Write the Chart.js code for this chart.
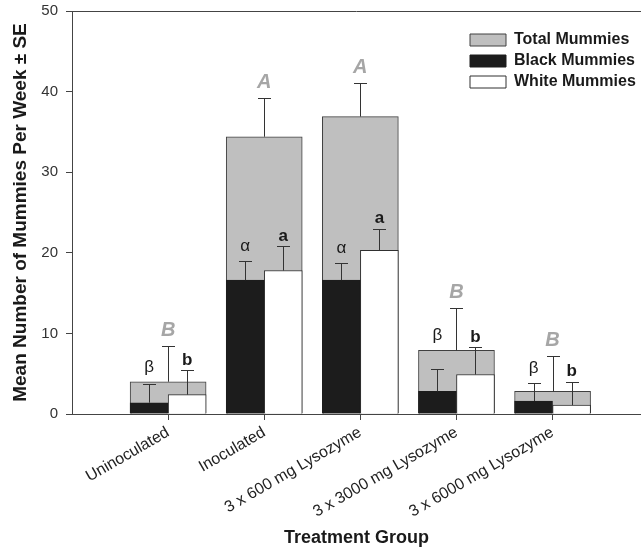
<!DOCTYPE html>
<html><head><meta charset="utf-8">
<script src="https://cdn.jsdelivr.net/npm/chart.js@4.4.1/dist/chart.umd.min.js"></script>
<style>html,body{margin:0;padding:0;background:#fff;}#wrap{width:641px;height:551px;}</style>
</head><body><div id="wrap"><canvas id="c" width="641" height="551"></canvas></div>
<script>
// ---- data ----
const categories = ['Uninoculated', 'Inoculated', '3 x 600 mg Lysozyme', '3 x 3000 mg Lysozyme', '3 x 6000 mg Lysozyme'];
const totalMean = [4.0, 34.4, 36.9, 7.9, 2.8];
const totalSE   = [4.4, 4.8, 4.2, 5.2, 4.4];
const blackMean = [1.4, 16.6, 16.6, 2.8, 1.6];
const blackSE   = [2.3, 2.4, 2.1, 2.8, 2.25];
const whiteMean = [2.4, 17.8, 20.3, 4.9, 1.1];
const whiteSE   = [3.05, 3.0, 2.7, 3.4, 2.9];
const totalLetters = ['B', 'A', 'A', 'B', 'B'];
const blackLetters = ['\u03B2', '\u03B1', '\u03B1', '\u03B2', '\u03B2'];
const whiteLetters = ['b', 'a', 'a', 'b', 'b'];
const yTicks = [0, 10, 20, 30, 40, 50];

const FONT = "'Liberation Sans', Arial, Helvetica, sans-serif";
const AXIS = '#444';
const X_MAX = 5.92;          // axis extends past the last group (clipped at the right edge)
const GROUP_W = 76;          // px width of the total bar; black/white are half of it
const HALF_SHIFT = 0.198;    // quarter of group width, in category units
const pts = (arr, shift) => arr.map((v, i) => ({ x: i + 1 + shift, y: v }));

const topBorder = {
  id: 'topBorder',
  afterDraw(chart) {
    const { ctx, chartArea: a } = chart;
    ctx.save(); ctx.strokeStyle = AXIS; ctx.lineWidth = 1;
    ctx.beginPath(); ctx.moveTo(a.left, Math.round(a.top) + 0.5); ctx.lineTo(chart.width, Math.round(a.top) + 0.5); ctx.stroke();
    ctx.restore();
  }
};

const legendPlace = {
  id: 'legendPlace',
  afterLayout(chart) {
    const lg = chart.legend;
    if (lg) { lg.left = 465; lg.top = 27; }
  }
};

const errAndLetters = {
  id: 'errAndLetters',
  afterDatasetsDraw(chart) {
    const ctx = chart.ctx, ys = chart.scales.y;
    const sets = [
      { di: 0, m: totalMean, se: totalSE },
      { di: 1, m: blackMean, se: blackSE },
      { di: 2, m: whiteMean, se: whiteSE }
    ];
    ctx.save();
    ctx.strokeStyle = '#333'; ctx.lineWidth = 1;
    sets.forEach(s => {
      chart.getDatasetMeta(s.di).data.forEach((bar, j) => {
        const x = Math.round(bar.x) + 0.5;
        const y0 = ys.getPixelForValue(s.m[j]);
        const y1 = Math.round(ys.getPixelForValue(s.m[j] + s.se[j])) + 0.5;
        ctx.beginPath();
        ctx.moveTo(x, y0); ctx.lineTo(x, y1);
        ctx.moveTo(x - 6.5, y1); ctx.lineTo(x + 6.5, y1);
        ctx.stroke();
      });
    });
    ctx.textAlign = 'center'; ctx.textBaseline = 'alphabetic';
    ctx.fillStyle = '#a6a6a6';
    ctx.font = 'italic bold 20px ' + FONT;
    chart.getDatasetMeta(0).data.forEach((bar, j) => {
      const y = ys.getPixelForValue(totalMean[j] + totalSE[j]) - 10;
      ctx.fillText(totalLetters[j], bar.x, y);
    });
    ctx.fillStyle = '#1a1a1a';
    ctx.font = '17px ' + FONT;
    chart.getDatasetMeta(1).data.forEach((bar, j) => {
      let top = blackMean[j] + blackSE[j];
      if (totalMean[j] > top && totalMean[j] - top < 3) top = totalMean[j];
      const y = ys.getPixelForValue(top) - 10;
      ctx.fillText(blackLetters[j], bar.x, y);
    });
    ctx.font = 'bold 17px ' + FONT;
    chart.getDatasetMeta(2).data.forEach((bar, j) => {
      const y = ys.getPixelForValue(whiteMean[j] + whiteSE[j]) - 5.5;
      ctx.fillText(whiteLetters[j], bar.x, y);
    });
    ctx.restore();
  }
};

new Chart(document.getElementById('c'), {
  type: 'bar',
  data: {
    datasets: [
      { label: 'Total Mummies', data: pts(totalMean, 0), order: 2, grouped: false,
        barThickness: GROUP_W,
        backgroundColor: '#bfbfbf', borderColor: '#404040', borderWidth: 1 },
      { label: 'Black Mummies', data: pts(blackMean, -HALF_SHIFT), order: 1, grouped: false,
        barThickness: GROUP_W / 2,
        backgroundColor: '#1c1c1c', borderColor: '#1c1c1c', borderWidth: 1 },
      { label: 'White Mummies', data: pts(whiteMean, HALF_SHIFT), order: 1, grouped: false,
        barThickness: GROUP_W / 2,
        backgroundColor: '#ffffff', borderColor: '#303030', borderWidth: 1 }
    ]
  },
  options: {
    responsive: false,
    devicePixelRatio: 1,
    animation: false,
    events: [],
    layout: { padding: { top: 11, left: 0, right: 0, bottom: 0 } },
    plugins: {
      tooltip: { enabled: false },
      legend: {
        position: 'chartArea',
        align: 'start',
        labels: {
          boxWidth: 36, boxHeight: 12, padding: 5,
          color: '#1a1a1a',
          font: { family: FONT, size: 16, weight: 'bold' },
          sort: (a, b) => a.datasetIndex - b.datasetIndex
        }
      }
    },
    scales: {
      x: {
        type: 'linear', position: 'bottom', min: 0, max: X_MAX, offset: false,
        afterBuildTicks: s => { s.ticks = categories.map((_, i) => ({ value: i + 1 })); },
        afterFit: s => { s.height = 137; s.paddingLeft = 0; s.paddingRight = 0; },
        grid: { display: true, drawOnChartArea: false, drawTicks: true, tickLength: 6, color: AXIS, offset: false },
        border: { display: true, color: AXIS, width: 1 },
        ticks: {
          autoSkip: false, minRotation: 30, maxRotation: 30, padding: 3,
          color: '#222', font: { family: FONT, size: 16 },
          callback: v => categories[Math.round(v) - 1] || ''
        },
        title: { display: true, text: 'Treatment Group', color: '#1a1a1a',
          font: { family: FONT, size: 18, weight: 'bold' }, padding: { top: 0, bottom: 2 } }
      },
      y: {
        type: 'linear', min: 0, max: 50,
        afterBuildTicks: s => { s.ticks = yTicks.map(v => ({ value: v })); },
        afterFit: s => { s.width = 72; s.paddingTop = 0; s.paddingBottom = 0; },
        grid: { display: true, drawOnChartArea: false, drawTicks: true, tickLength: 6, color: AXIS },
        border: { display: true, color: AXIS, width: 1 },
        ticks: { color: '#333', padding: 8, font: { family: FONT, size: 15 } },
        title: { display: true, text: 'Mean Number of Mummies Per Week \u00B1 SE', color: '#1a1a1a',
          font: { family: FONT, size: 19, weight: 'bold' }, padding: { top: 9, bottom: 0 } }
      }
    }
  },
  plugins: [topBorder, legendPlace, errAndLetters]
});
</script>
</body></html>
